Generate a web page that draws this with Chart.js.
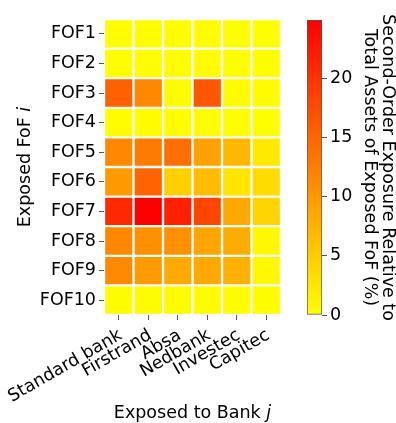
<!DOCTYPE html>
<html>
<head>
<meta charset="utf-8">
<script src="https://cdn.jsdelivr.net/npm/chart.js@4"></script>
<style>
body { margin: 0; background: #fff; width: 396px; height: 423px; overflow: hidden; position: relative; }
#heat { position: absolute; left: 0; top: 0; }
#cbar { position: absolute; left: 290px; top: 0; }
</style>
</head>
<body>
<canvas id="heat" width="290" height="423"></canvas>
<canvas id="cbar" width="106" height="423"></canvas>
<script>
const banks = ['Standard bank', 'Firstrand', 'Absa', 'Nedbank', 'Investec', 'Capitec'];
const fofs = ['FOF1', 'FOF2', 'FOF3', 'FOF4', 'FOF5', 'FOF6', 'FOF7', 'FOF8', 'FOF9', 'FOF10'];

// second-order exposure (% of total assets), one row per FoF, columns follow banks
const fof1 = [0.2, 0.2, 0.2, 0.2, 0.1, 0.1];
const fof2 = [0.2, 0.2, 0.2, 0.2, 0.1, 0.1];
const fof3 = [15.5, 11.6, 0.4, 16.5, 0.3, 0.3];
const fof4 = [0.2, 0.2, 0.2, 0.2, 0.1, 0.1];
const fof5 = [11.6, 12.9, 14.1, 9.2, 6.9, 2.1];
const fof6 = [10.0, 15.1, 4.6, 6.5, 2.4, 3.4];
const fof7 = [20.9, 24.9, 21.7, 18.2, 8.5, 4.2];
const fof8 = [11.6, 10.8, 10.8, 8.8, 8.1, 0.6];
const fof9 = [11.4, 9.8, 8.3, 8.5, 7.7, 0.6];
const fof10 = [0.3, 0.3, 0.3, 0.3, 0.2, 0.2];
const rows = [fof1, fof2, fof3, fof4, fof5, fof6, fof7, fof8, fof9, fof10];

const cbarTicks = [0, 5, 10, 15, 20];
const vmax = 24.9;

Chart.defaults.font.family = 'DejaVu Sans';
Chart.defaults.font.size = 17.5;
Chart.defaults.color = '#000';

// autumn_r colormap: yellow at 0, red at vmax
function autumnR(v) {
    const t = Math.max(0, Math.min(1, v / vmax));
    return 'rgb(255,' + Math.round(255 * (1 - t)) + ',0)';
}

// axis titles with an italic index letter
const axisTitles = {
    id: 'axisTitles',
    afterDraw(chart) {
        const c = chart.ctx;
        const a = chart.chartArea;
        const part = (x, y, rot, plain, ital) => {
            c.save();
            c.translate(x, y);
            c.rotate(rot);
            c.fillStyle = '#000';
            c.textBaseline = 'middle';
            c.font = '17.5px "DejaVu Sans"';
            const w1 = c.measureText(plain).width;
            c.font = 'italic 17.5px "DejaVu Sans"';
            const w2 = c.measureText(ital).width;
            let x0 = -(w1 + w2) / 2;
            c.font = '17.5px "DejaVu Sans"';
            c.fillText(plain, x0, 0);
            c.font = 'italic 17.5px "DejaVu Sans"';
            c.fillText(ital, x0 + w1, 0);
            c.restore();
        };
        part((a.left + a.right) / 2, 413, 0, 'Exposed to Bank ', 'j');
        part(25, (a.top + a.bottom) / 2, -Math.PI / 2, 'Exposed FoF ', 'i');
    }
};

new Chart(document.getElementById('heat'), {
    type: 'bar',
    data: {
        labels: banks,
        datasets: fofs.map((name, r) => ({
            label: name,
            data: rows[r].map(() => [r, r + 1]),
            backgroundColor: rows[r].map(autumnR),
            borderColor: '#fff',
            borderWidth: 1.5,
            borderSkipped: false,
            grouped: false,
            categoryPercentage: 1,
            barPercentage: 1
        }))
    },
    options: {
        responsive: false,
        animation: false,
        layout: { padding: { top: 19, right: 9, left: 0, bottom: 0 } },
        plugins: { legend: { display: false }, tooltip: { enabled: false } },
        scales: {
            x: {
                type: 'category',
                offset: true,
                grid: { offset: false, drawOnChartArea: false, tickLength: 5, color: '#555' },
                border: { display: false },
                ticks: { maxRotation: 30, minRotation: 30, padding: 5, labelOffset: 2, autoSkip: false },
                afterFit: s => { s.height = 108; s.paddingLeft = 0; s.paddingRight = 0; }
            },
            y: {
                type: 'linear',
                min: 0,
                max: 10,
                reverse: true,
                grid: { drawOnChartArea: false, tickLength: 5, color: '#555' },
                border: { display: false },
                afterBuildTicks: s => { s.ticks = fofs.map((_, i) => ({ value: i + 0.5 })); },
                ticks: { autoSkip: false, padding: 3, callback: (v, i) => fofs[i] },
                afterFit: s => { s.width = 104; }
            }
        }
    },
    plugins: [axisTitles]
});

// colour bar
new Chart(document.getElementById('cbar'), {
    type: 'bar',
    data: {
        labels: [''],
        datasets: [{
            data: [[0, vmax]],
            backgroundColor: ctx => {
                const a = ctx.chart.chartArea;
                if (!a) return 'rgb(255,255,0)';
                const g = ctx.chart.ctx.createLinearGradient(0, a.bottom, 0, a.top);
                g.addColorStop(0, autumnR(0));
                g.addColorStop(1, autumnR(vmax));
                return g;
            },
            borderColor: '#555',
            borderWidth: 1,
            borderSkipped: false,
            categoryPercentage: 1,
            barPercentage: 1
        }]
    },
    options: {
        responsive: false,
        animation: false,
        layout: { padding: { top: 20, left: 17, bottom: 108, right: 0 } },
        plugins: { legend: { display: false }, tooltip: { enabled: false } },
        scales: {
            x: { display: false },
            y: {
                position: 'right',
                min: 0,
                max: vmax,
                grid: { drawOnChartArea: false, tickLength: 5, color: '#555' },
                border: { display: false },
                afterBuildTicks: s => { s.ticks = cbarTicks.map(v => ({ value: v })); },
                ticks: { padding: 3 },
                title: {
                    display: true,
                    text: ['Second-Order Exposure Relative to', 'Total Assets of Exposed FoF (%)'],
                    font: { size: 17.5, lineHeight: 1.02 },
                    padding: 0
                },
                afterFit: s => { s.width = 74; }
            }
        }
    }
});
</script>
</body>
</html>
